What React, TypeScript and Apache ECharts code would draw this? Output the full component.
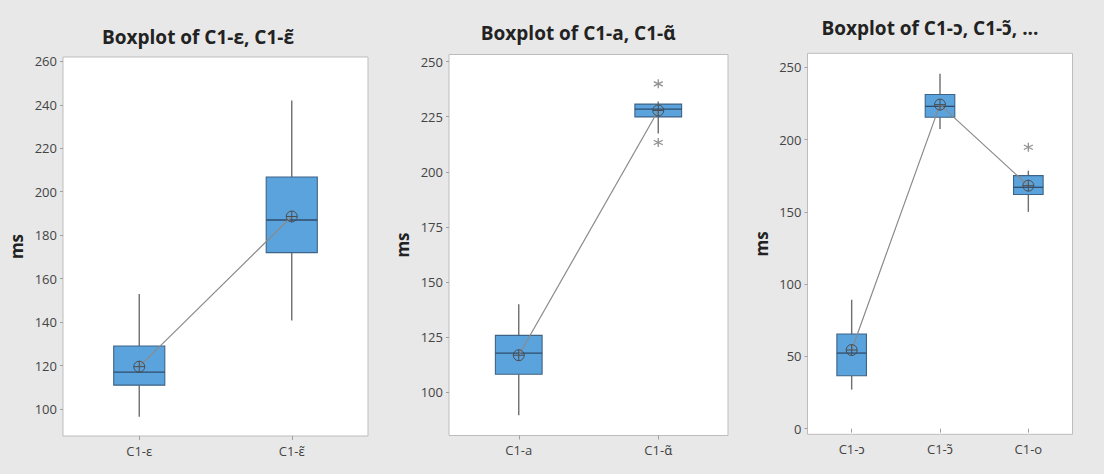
import React, { useEffect, useRef } from "react";
import * as echarts from "echarts";

// ---------- data ----------
const titles = ["Boxplot of C1-ɛ, C1-ɛ̃", "Boxplot of C1-a, C1-ɑ̃", "Boxplot of C1-ɔ, C1-ɔ̃, ..."];

const cats1 = ["C1-ɛ", "C1-ɛ̃"];
const box1 = [
  [96.5, 111, 117, 129, 153],
  [140.7, 172, 187, 206.8, 242],
];
const mean1 = [119.5, 188.6];
const outliers1: number[][] = [];
const yTicks1 = [100, 120, 140, 160, 180, 200, 220, 240, 260];

const cats2 = ["C1-a", "C1-ɑ̃"];
const box2 = [
  [89.6, 108.2, 117.8, 125.8, 139.9],
  [217.4, 224.9, 228.4, 230.7, 231.9],
];
const mean2 = [116.8, 227.8];
const outliers2 = [
  [1, 239.9],
  [1, 213.3],
];
const yTicks2 = [100, 125, 150, 175, 200, 225, 250];

const cats3 = ["C1-ɔ", "C1-ɔ̃", "C1-o"];
const box3 = [
  [27, 36.6, 52.3, 65.5, 89.2],
  [207.4, 215.5, 223, 231.2, 245.5],
  [150, 162, 167, 175.1, 178.5],
];
const mean3 = [54.4, 224.2, 168.1];
const outliers3 = [[2, 194.7]];
const yTicks3 = [0, 50, 100, 150, 200, 250];

// ---------- styling / layout ----------
const BG = "#e8e8e8";
const FONT = "'Open Sans', 'Noto Sans', sans-serif";
const MEAN_SYMBOL =
  "path://M10,0A10,10,0,1,1,10,20A10,10,0,1,1,10,0ZM0,10L20,10M10,0L10,20";
const STAR_SYMBOL = "path://M5,0L5,10M0.67,2.5L9.33,7.5M0.67,7.5L9.33,2.5";

const panels = [
  { cats: cats1, box: box1, mean: mean1, out: outliers1, ticks: yTicks1, min: 87.6, max: 262, grid: { left: 63, top: 57, width: 305, height: 379 }, title: { x: 198, y: 37 } },
  { cats: cats2, box: box2, mean: mean2, out: outliers2, ticks: yTicks2, min: 80.4, max: 253.2, grid: { left: 449, top: 54.5, width: 279, height: 381 }, title: { x: 578, y: 33 } },
  { cats: cats3, box: box3, mean: mean3, out: outliers3, ticks: yTicks3, min: -3.9, max: 259.7, grid: { left: 807.5, top: 53.3, width: 265, height: 381 }, title: { x: 930, y: 28 } },
];

function renderBox(params: any, api: any) {
  const x = api.value(0);
  const lo = api.coord([x, api.value(1)]);
  const q1 = api.coord([x, api.value(2)]);
  const med = api.coord([x, api.value(3)]);
  const q3 = api.coord([x, api.value(4)]);
  const hi = api.coord([x, api.value(5)]);
  const bw = api.size([1, 0])[0] * 0.335;
  const cx = lo[0];
  const wStyle = { stroke: "#6e6e6e", lineWidth: 1.4 };
  return {
    type: "group",
    children: [
      { type: "line", shape: { x1: cx, y1: hi[1], x2: cx, y2: q3[1] }, style: wStyle },
      { type: "line", shape: { x1: cx, y1: q1[1], x2: cx, y2: lo[1] }, style: wStyle },
      {
        type: "rect",
        shape: { x: cx - bw / 2, y: q3[1], width: bw, height: q1[1] - q3[1] },
        style: { fill: "#5ba3dd", stroke: "#3f6384", lineWidth: 1.1 },
      },
      {
        type: "line",
        shape: { x1: cx - bw / 2, y1: med[1], x2: cx + bw / 2, y2: med[1] },
        style: { stroke: "#2f4d6a", lineWidth: 1.3 },
      },
    ],
  };
}

export default function App() {
  const ref = useRef<HTMLDivElement>(null);
  useEffect(() => {
    if (!ref.current) return;
    const chart = echarts.init(ref.current, null, { renderer: "svg" });
    const grid: any[] = [];
    const xAxis: any[] = [];
    const yAxis: any[] = [];
    const series: any[] = [];
    const graphic: any[] = [];
    panels.forEach((p, i) => {
      grid.push({
        ...p.grid,
        show: true,
        backgroundColor: "#ffffff",
        borderColor: "#bdbdbd",
        borderWidth: 1,
        containLabel: false,
      });
      xAxis.push({
        type: "category",
        gridIndex: i,
        data: p.cats,
        boundaryGap: true,
        axisLine: { show: false },
        axisTick: { show: true, alignWithLabel: true, length: 4, lineStyle: { color: "#a0a0a0" } },
        axisLabel: { color: "#444", fontFamily: FONT, fontSize: 13, margin: 8 },
        splitLine: { show: false },
      });
      yAxis.push({
        type: "value",
        gridIndex: i,
        min: p.min,
        max: p.max,
        name: "ms",
        nameLocation: "middle",
        nameGap: 38,
        nameTextStyle: { fontFamily: FONT, fontSize: 17, fontWeight: "bold", color: "#222" },
        axisLine: { show: false },
        axisTick: { show: true, length: 3, customValues: p.ticks, lineStyle: { color: "#a0a0a0" } },
        axisLabel: { color: "#444", fontFamily: FONT, fontSize: 13, margin: 6, customValues: p.ticks },
        splitLine: { show: false },
      });
      series.push({
        type: "custom",
        xAxisIndex: i,
        yAxisIndex: i,
        renderItem: renderBox,
        encode: { x: 0, y: [1, 2, 3, 4, 5] },
        data: p.box.map((b, k) => [k, ...b]),
        silent: true,
        z: 2,
      });
      series.push({
        type: "line",
        xAxisIndex: i,
        yAxisIndex: i,
        data: p.mean,
        symbol: MEAN_SYMBOL,
        symbolSize: 11,
        showAllSymbol: true,
        lineStyle: { color: "#8a8a8a", width: 1.2 },
        itemStyle: { color: "rgba(0,0,0,0)", borderColor: "#4d4d4d", borderWidth: 1 },
        silent: true,
        z: 3,
      });
      if (p.out.length) {
        series.push({
          type: "scatter",
          xAxisIndex: i,
          yAxisIndex: i,
          data: p.out,
          symbol: STAR_SYMBOL,
          symbolSize: 9,
          itemStyle: { color: "rgba(0,0,0,0)", borderColor: "#777", borderWidth: 1.3 },
          silent: true,
          z: 3,
        });
      }
      graphic.push({
        type: "text",
        x: p.title.x,
        y: p.title.y,
        style: {
          text: titles[i],
          font: `bold 19px ${FONT}`,
          fill: "#222",
          textAlign: "center",
          textVerticalAlign: "middle",
        },
      });
    });
    chart.setOption({
      animation: false,
      backgroundColor: BG,
      grid,
      xAxis,
      yAxis,
      series,
      graphic,
    });
    return () => chart.dispose();
  }, []);
  return (
    <div
      ref={ref}
      style={{ position: "fixed", left: 0, top: 0, width: 1104, height: 474, background: BG }}
    />
  );
}
